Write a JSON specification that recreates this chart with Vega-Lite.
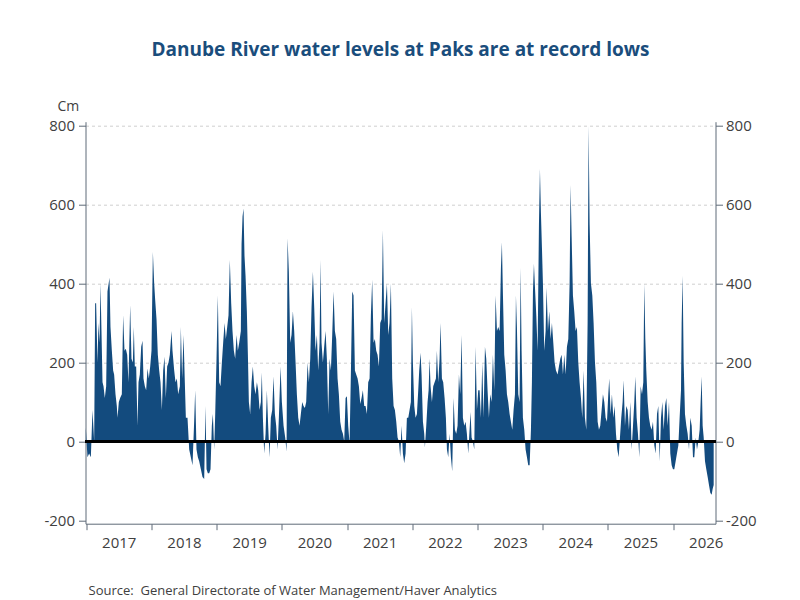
{
  "$schema": "https://vega.github.io/schema/vega-lite/v6.json",
  "width": 630,
  "height": 402,
  "autosize": "none",
  "padding": {"left": 85.5, "top": 121.7, "right": 84.5, "bottom": 76.3},
  "background": "white",
  "title": {
    "text": "Danube River water levels at Paks are at record lows",
    "font": "Open Sans",
    "fontSize": 19,
    "fontWeight": "bold",
    "color": "#1a4d7c",
    "anchor": "middle",
    "frame": "group",
    "offset": 40
  },
  "data": {
    "values": [
      {"year": 2016.995, "level": 35}, {"year": 2017.020, "level": -40}, {"year": 2017.046, "level": -30}, {"year": 2017.072, "level": -40},
      {"year": 2017.097, "level": 80}, {"year": 2017.123, "level": 0}, {"year": 2017.138, "level": 350}, {"year": 2017.153, "level": 350},
      {"year": 2017.174, "level": 200}, {"year": 2017.189, "level": 300}, {"year": 2017.205, "level": 250}, {"year": 2017.220, "level": 400},
      {"year": 2017.235, "level": 280}, {"year": 2017.251, "level": 150}, {"year": 2017.266, "level": 140}, {"year": 2017.286, "level": 110},
      {"year": 2017.307, "level": 140}, {"year": 2017.327, "level": 380}, {"year": 2017.358, "level": 415}, {"year": 2017.373, "level": 290},
      {"year": 2017.394, "level": 230}, {"year": 2017.414, "level": 180}, {"year": 2017.429, "level": 170}, {"year": 2017.450, "level": 120},
      {"year": 2017.470, "level": 90}, {"year": 2017.481, "level": 60}, {"year": 2017.501, "level": 100}, {"year": 2017.521, "level": 110},
      {"year": 2017.547, "level": 120}, {"year": 2017.567, "level": 320}, {"year": 2017.588, "level": 230}, {"year": 2017.608, "level": 235},
      {"year": 2017.629, "level": 220}, {"year": 2017.649, "level": 150}, {"year": 2017.675, "level": 345}, {"year": 2017.695, "level": 210},
      {"year": 2017.716, "level": 200}, {"year": 2017.731, "level": 290}, {"year": 2017.746, "level": 190}, {"year": 2017.767, "level": 190},
      {"year": 2017.787, "level": 40}, {"year": 2017.803, "level": 150}, {"year": 2017.823, "level": 170}, {"year": 2017.844, "level": 240},
      {"year": 2017.864, "level": 255}, {"year": 2017.879, "level": 160}, {"year": 2017.900, "level": 140}, {"year": 2017.920, "level": 130},
      {"year": 2017.941, "level": 185}, {"year": 2017.961, "level": 160}, {"year": 2017.982, "level": 190}, {"year": 2018.002, "level": 230},
      {"year": 2018.023, "level": 480}, {"year": 2018.043, "level": 400}, {"year": 2018.058, "level": 360}, {"year": 2018.079, "level": 310},
      {"year": 2018.099, "level": 220}, {"year": 2018.120, "level": 180}, {"year": 2018.140, "level": 150}, {"year": 2018.161, "level": 80},
      {"year": 2018.181, "level": 180}, {"year": 2018.201, "level": 215}, {"year": 2018.222, "level": 110}, {"year": 2018.242, "level": 190},
      {"year": 2018.263, "level": 200}, {"year": 2018.283, "level": 220}, {"year": 2018.309, "level": 280}, {"year": 2018.324, "level": 230},
      {"year": 2018.350, "level": 180}, {"year": 2018.370, "level": 150}, {"year": 2018.391, "level": 160}, {"year": 2018.411, "level": 120},
      {"year": 2018.437, "level": 140}, {"year": 2018.452, "level": 290}, {"year": 2018.472, "level": 160}, {"year": 2018.493, "level": 270},
      {"year": 2018.513, "level": 150}, {"year": 2018.529, "level": 60}, {"year": 2018.554, "level": 60}, {"year": 2018.580, "level": -20},
      {"year": 2018.605, "level": -40}, {"year": 2018.631, "level": -60}, {"year": 2018.656, "level": 50}, {"year": 2018.672, "level": 130},
      {"year": 2018.692, "level": -20}, {"year": 2018.713, "level": -40}, {"year": 2018.733, "level": -50}, {"year": 2018.759, "level": -70},
      {"year": 2018.784, "level": -90}, {"year": 2018.810, "level": -95}, {"year": 2018.830, "level": 90}, {"year": 2018.846, "level": -70},
      {"year": 2018.866, "level": -80}, {"year": 2018.887, "level": -80}, {"year": 2018.907, "level": -70}, {"year": 2018.927, "level": 40},
      {"year": 2018.943, "level": 70}, {"year": 2018.963, "level": -20}, {"year": 2018.979, "level": 70}, {"year": 2018.999, "level": 210},
      {"year": 2019.019, "level": 370}, {"year": 2019.040, "level": 150}, {"year": 2019.060, "level": 140}, {"year": 2019.081, "level": 200},
      {"year": 2019.101, "level": 250}, {"year": 2019.122, "level": 300}, {"year": 2019.142, "level": 260}, {"year": 2019.163, "level": 290},
      {"year": 2019.183, "level": 320}, {"year": 2019.203, "level": 460}, {"year": 2019.224, "level": 350}, {"year": 2019.244, "level": 280},
      {"year": 2019.265, "level": 230}, {"year": 2019.285, "level": 210}, {"year": 2019.306, "level": 270}, {"year": 2019.326, "level": 230},
      {"year": 2019.347, "level": 250}, {"year": 2019.372, "level": 280}, {"year": 2019.383, "level": 500}, {"year": 2019.398, "level": 570},
      {"year": 2019.413, "level": 590}, {"year": 2019.428, "level": 470}, {"year": 2019.444, "level": 420}, {"year": 2019.464, "level": 330},
      {"year": 2019.480, "level": 220}, {"year": 2019.495, "level": 100}, {"year": 2019.515, "level": 70}, {"year": 2019.536, "level": 150},
      {"year": 2019.556, "level": 190}, {"year": 2019.577, "level": 140}, {"year": 2019.597, "level": 120}, {"year": 2019.618, "level": 150},
      {"year": 2019.638, "level": 130}, {"year": 2019.659, "level": 80}, {"year": 2019.679, "level": 100}, {"year": 2019.694, "level": 175},
      {"year": 2019.710, "level": 60}, {"year": 2019.730, "level": -30}, {"year": 2019.751, "level": 20}, {"year": 2019.771, "level": 130},
      {"year": 2019.791, "level": 40}, {"year": 2019.812, "level": -40}, {"year": 2019.832, "level": 60}, {"year": 2019.853, "level": 80},
      {"year": 2019.873, "level": 165}, {"year": 2019.894, "level": 70}, {"year": 2019.914, "level": 40}, {"year": 2019.935, "level": -20},
      {"year": 2019.955, "level": 60}, {"year": 2019.981, "level": 190}, {"year": 2020.001, "level": 100}, {"year": 2020.027, "level": 40},
      {"year": 2020.052, "level": 10}, {"year": 2020.073, "level": -25}, {"year": 2020.088, "level": 515}, {"year": 2020.108, "level": 430},
      {"year": 2020.129, "level": 250}, {"year": 2020.149, "level": 270}, {"year": 2020.170, "level": 330}, {"year": 2020.190, "level": 280},
      {"year": 2020.211, "level": 200}, {"year": 2020.231, "level": 120}, {"year": 2020.252, "level": 60}, {"year": 2020.272, "level": 40},
      {"year": 2020.292, "level": 70}, {"year": 2020.313, "level": 100}, {"year": 2020.333, "level": 90}, {"year": 2020.354, "level": 85},
      {"year": 2020.374, "level": 100}, {"year": 2020.395, "level": 200}, {"year": 2020.415, "level": 150}, {"year": 2020.436, "level": 210},
      {"year": 2020.456, "level": 340}, {"year": 2020.477, "level": 430}, {"year": 2020.497, "level": 340}, {"year": 2020.517, "level": 230},
      {"year": 2020.538, "level": 270}, {"year": 2020.558, "level": 180}, {"year": 2020.579, "level": 250}, {"year": 2020.594, "level": 460},
      {"year": 2020.609, "level": 250}, {"year": 2020.630, "level": 200}, {"year": 2020.650, "level": 240}, {"year": 2020.671, "level": 280},
      {"year": 2020.691, "level": 210}, {"year": 2020.712, "level": 70}, {"year": 2020.732, "level": 210}, {"year": 2020.753, "level": 180},
      {"year": 2020.773, "level": 270}, {"year": 2020.794, "level": 380}, {"year": 2020.814, "level": 280}, {"year": 2020.834, "level": 260},
      {"year": 2020.855, "level": 160}, {"year": 2020.875, "level": 120}, {"year": 2020.896, "level": 50}, {"year": 2020.916, "level": 30},
      {"year": 2020.937, "level": 20}, {"year": 2020.957, "level": 0}, {"year": 2020.978, "level": 110}, {"year": 2020.998, "level": 115},
      {"year": 2021.018, "level": 40}, {"year": 2021.039, "level": -5}, {"year": 2021.059, "level": 170}, {"year": 2021.080, "level": 380},
      {"year": 2021.100, "level": 370}, {"year": 2021.121, "level": 180}, {"year": 2021.141, "level": 170}, {"year": 2021.162, "level": 160},
      {"year": 2021.182, "level": 140}, {"year": 2021.203, "level": 95}, {"year": 2021.223, "level": 110}, {"year": 2021.243, "level": 130},
      {"year": 2021.264, "level": 90}, {"year": 2021.284, "level": 90}, {"year": 2021.305, "level": 70}, {"year": 2021.325, "level": 150},
      {"year": 2021.346, "level": 160}, {"year": 2021.366, "level": 320}, {"year": 2021.386, "level": 410}, {"year": 2021.407, "level": 250},
      {"year": 2021.427, "level": 260}, {"year": 2021.448, "level": 230}, {"year": 2021.468, "level": 220}, {"year": 2021.489, "level": 190},
      {"year": 2021.509, "level": 300}, {"year": 2021.530, "level": 310}, {"year": 2021.550, "level": 535}, {"year": 2021.571, "level": 300},
      {"year": 2021.591, "level": 350}, {"year": 2021.612, "level": 400}, {"year": 2021.632, "level": 270}, {"year": 2021.652, "level": 300},
      {"year": 2021.673, "level": 400}, {"year": 2021.693, "level": 160}, {"year": 2021.714, "level": 90}, {"year": 2021.734, "level": 80},
      {"year": 2021.755, "level": 50}, {"year": 2021.775, "level": 10}, {"year": 2021.796, "level": 0}, {"year": 2021.811, "level": -30},
      {"year": 2021.816, "level": -40}, {"year": 2021.836, "level": 40}, {"year": 2021.857, "level": -30}, {"year": 2021.877, "level": -55},
      {"year": 2021.898, "level": -30}, {"year": 2021.918, "level": 60}, {"year": 2021.939, "level": 60}, {"year": 2021.959, "level": 80},
      {"year": 2021.979, "level": 100}, {"year": 2021.995, "level": 340}, {"year": 2022.010, "level": 200}, {"year": 2022.031, "level": 90},
      {"year": 2022.051, "level": 60}, {"year": 2022.072, "level": 70}, {"year": 2022.092, "level": 130}, {"year": 2022.107, "level": 180},
      {"year": 2022.128, "level": 225}, {"year": 2022.143, "level": 170}, {"year": 2022.164, "level": 50}, {"year": 2022.184, "level": 20},
      {"year": 2022.194, "level": -15}, {"year": 2022.215, "level": 40}, {"year": 2022.235, "level": 100}, {"year": 2022.251, "level": 130},
      {"year": 2022.266, "level": 210}, {"year": 2022.281, "level": 140}, {"year": 2022.302, "level": 100}, {"year": 2022.322, "level": 140},
      {"year": 2022.343, "level": 150}, {"year": 2022.363, "level": 160}, {"year": 2022.378, "level": 230}, {"year": 2022.399, "level": 150},
      {"year": 2022.419, "level": 210}, {"year": 2022.434, "level": 300}, {"year": 2022.455, "level": 160}, {"year": 2022.475, "level": 150},
      {"year": 2022.496, "level": 110}, {"year": 2022.516, "level": 60}, {"year": 2022.532, "level": -20}, {"year": 2022.552, "level": -40},
      {"year": 2022.573, "level": 20}, {"year": 2022.593, "level": -40}, {"year": 2022.613, "level": -75}, {"year": 2022.634, "level": 110},
      {"year": 2022.654, "level": 30}, {"year": 2022.675, "level": 20}, {"year": 2022.695, "level": 40}, {"year": 2022.716, "level": 170},
      {"year": 2022.736, "level": 120}, {"year": 2022.757, "level": 270}, {"year": 2022.777, "level": 60}, {"year": 2022.798, "level": 40},
      {"year": 2022.818, "level": 50}, {"year": 2022.838, "level": 20}, {"year": 2022.859, "level": -30}, {"year": 2022.879, "level": 30},
      {"year": 2022.895, "level": 75}, {"year": 2022.910, "level": 10}, {"year": 2022.931, "level": 0}, {"year": 2022.951, "level": -20},
      {"year": 2022.971, "level": 240}, {"year": 2022.992, "level": 80}, {"year": 2023.012, "level": 130}, {"year": 2023.033, "level": 130},
      {"year": 2023.053, "level": 60}, {"year": 2023.074, "level": 200}, {"year": 2023.094, "level": 60}, {"year": 2023.115, "level": 240},
      {"year": 2023.135, "level": 210}, {"year": 2023.155, "level": 130}, {"year": 2023.176, "level": 60}, {"year": 2023.196, "level": 120},
      {"year": 2023.217, "level": 100}, {"year": 2023.237, "level": 220}, {"year": 2023.258, "level": 130}, {"year": 2023.278, "level": 370},
      {"year": 2023.299, "level": 280}, {"year": 2023.319, "level": 290}, {"year": 2023.340, "level": 280}, {"year": 2023.360, "level": 440},
      {"year": 2023.375, "level": 505}, {"year": 2023.391, "level": 370}, {"year": 2023.411, "level": 220}, {"year": 2023.432, "level": 180},
      {"year": 2023.452, "level": 120}, {"year": 2023.472, "level": 100}, {"year": 2023.493, "level": 70}, {"year": 2023.513, "level": 50},
      {"year": 2023.534, "level": 30}, {"year": 2023.554, "level": 80}, {"year": 2023.575, "level": 120}, {"year": 2023.590, "level": 370},
      {"year": 2023.605, "level": 290}, {"year": 2023.626, "level": 120}, {"year": 2023.646, "level": 100}, {"year": 2023.662, "level": 440},
      {"year": 2023.677, "level": 230}, {"year": 2023.697, "level": 60}, {"year": 2023.718, "level": 30}, {"year": 2023.738, "level": -20},
      {"year": 2023.759, "level": -40}, {"year": 2023.779, "level": -60}, {"year": 2023.800, "level": -60}, {"year": 2023.820, "level": 30},
      {"year": 2023.835, "level": 150}, {"year": 2023.851, "level": 380}, {"year": 2023.866, "level": 450}, {"year": 2023.882, "level": 390},
      {"year": 2023.902, "level": 320}, {"year": 2023.922, "level": 230}, {"year": 2023.943, "level": 550}, {"year": 2023.958, "level": 690},
      {"year": 2023.973, "level": 580}, {"year": 2023.989, "level": 490}, {"year": 2024.004, "level": 400}, {"year": 2024.024, "level": 230},
      {"year": 2024.045, "level": 280}, {"year": 2024.060, "level": 390}, {"year": 2024.081, "level": 280}, {"year": 2024.101, "level": 330},
      {"year": 2024.122, "level": 260}, {"year": 2024.142, "level": 300}, {"year": 2024.163, "level": 250}, {"year": 2024.183, "level": 200},
      {"year": 2024.204, "level": 180}, {"year": 2024.229, "level": 170}, {"year": 2024.249, "level": 190}, {"year": 2024.270, "level": 210},
      {"year": 2024.290, "level": 220}, {"year": 2024.311, "level": 170}, {"year": 2024.331, "level": 220}, {"year": 2024.352, "level": 170},
      {"year": 2024.372, "level": 240}, {"year": 2024.393, "level": 260}, {"year": 2024.413, "level": 400}, {"year": 2024.428, "level": 650},
      {"year": 2024.444, "level": 520}, {"year": 2024.464, "level": 370}, {"year": 2024.484, "level": 330}, {"year": 2024.505, "level": 280},
      {"year": 2024.525, "level": 290}, {"year": 2024.546, "level": 200}, {"year": 2024.566, "level": 150}, {"year": 2024.587, "level": 110},
      {"year": 2024.607, "level": 60}, {"year": 2024.628, "level": 180}, {"year": 2024.648, "level": 60}, {"year": 2024.669, "level": 30},
      {"year": 2024.689, "level": 300}, {"year": 2024.704, "level": 800}, {"year": 2024.720, "level": 550}, {"year": 2024.740, "level": 400},
      {"year": 2024.761, "level": 370}, {"year": 2024.781, "level": 300}, {"year": 2024.802, "level": 200}, {"year": 2024.822, "level": 150},
      {"year": 2024.843, "level": 50}, {"year": 2024.863, "level": 30}, {"year": 2024.883, "level": 40}, {"year": 2024.904, "level": 80},
      {"year": 2024.924, "level": 120}, {"year": 2024.945, "level": 100}, {"year": 2024.965, "level": 60}, {"year": 2024.986, "level": 50},
      {"year": 2025.006, "level": 120}, {"year": 2025.021, "level": 160}, {"year": 2025.042, "level": 70}, {"year": 2025.062, "level": 120},
      {"year": 2025.083, "level": 60}, {"year": 2025.103, "level": 90}, {"year": 2025.124, "level": 20}, {"year": 2025.144, "level": -20},
      {"year": 2025.165, "level": -40}, {"year": 2025.185, "level": 10}, {"year": 2025.205, "level": 60}, {"year": 2025.226, "level": 100},
      {"year": 2025.241, "level": 155}, {"year": 2025.262, "level": 40}, {"year": 2025.282, "level": 90}, {"year": 2025.303, "level": 80},
      {"year": 2025.323, "level": 30}, {"year": 2025.344, "level": 100}, {"year": 2025.364, "level": -20}, {"year": 2025.385, "level": 40},
      {"year": 2025.405, "level": 100}, {"year": 2025.420, "level": 165}, {"year": 2025.441, "level": 60}, {"year": 2025.461, "level": 20},
      {"year": 2025.482, "level": -40}, {"year": 2025.502, "level": 140}, {"year": 2025.523, "level": 120}, {"year": 2025.543, "level": 150},
      {"year": 2025.558, "level": 400}, {"year": 2025.574, "level": 260}, {"year": 2025.589, "level": 180}, {"year": 2025.610, "level": 100},
      {"year": 2025.630, "level": 60}, {"year": 2025.650, "level": 40}, {"year": 2025.671, "level": 30}, {"year": 2025.691, "level": 50},
      {"year": 2025.712, "level": -10}, {"year": 2025.732, "level": -30}, {"year": 2025.753, "level": 70}, {"year": 2025.773, "level": 90},
      {"year": 2025.794, "level": -50}, {"year": 2025.814, "level": 60}, {"year": 2025.835, "level": 100}, {"year": 2025.855, "level": 30},
      {"year": 2025.876, "level": 90}, {"year": 2025.896, "level": 110}, {"year": 2025.916, "level": 40}, {"year": 2025.937, "level": 100},
      {"year": 2025.957, "level": -30}, {"year": 2025.978, "level": -60}, {"year": 2025.998, "level": -70}, {"year": 2026.018, "level": -70},
      {"year": 2026.039, "level": -50}, {"year": 2026.059, "level": -30}, {"year": 2026.080, "level": -10}, {"year": 2026.100, "level": 60},
      {"year": 2026.121, "level": 130}, {"year": 2026.131, "level": 300}, {"year": 2026.146, "level": 420}, {"year": 2026.162, "level": 200},
      {"year": 2026.182, "level": 70}, {"year": 2026.203, "level": 40}, {"year": 2026.223, "level": 20}, {"year": 2026.244, "level": -20},
      {"year": 2026.264, "level": 60}, {"year": 2026.285, "level": 40}, {"year": 2026.305, "level": -40}, {"year": 2026.325, "level": -40},
      {"year": 2026.346, "level": 10}, {"year": 2026.366, "level": -20}, {"year": 2026.387, "level": 0}, {"year": 2026.407, "level": 30},
      {"year": 2026.422, "level": 100}, {"year": 2026.438, "level": 165}, {"year": 2026.453, "level": 40}, {"year": 2026.469, "level": 10},
      {"year": 2026.489, "level": -50}, {"year": 2026.509, "level": -70}, {"year": 2026.530, "level": -90}, {"year": 2026.550, "level": -110},
      {"year": 2026.571, "level": -130}, {"year": 2026.591, "level": -135}, {"year": 2026.606, "level": -120}, {"year": 2026.622, "level": -110}
    ]
  },
  "layer": [
    {
      "mark": {"type": "area", "color": "#134b7e", "interpolate": "linear"},
      "encoding": {
        "x": {
          "field": "year",
          "type": "quantitative",
          "scale": {"domain": [2016.99, 2026.65], "nice": false, "zero": false},
          "axis": {
            "values": [2017, 2018, 2019, 2020, 2021, 2022, 2023, 2024, 2025, 2026],
            "format": "d",
            "grid": false,
            "labelOffset": 32.6,
            "labelFont": "Open Sans",
            "labelFontSize": 15,
            "labelColor": "#404040",
            "labelPadding": 6,
            "labelFlush": false,
            "labelOverlap": false,
            "tickSize": 6,
            "tickColor": "#5f6b78",
            "domainColor": "#5f6b78",
            "title": "Source:\u00a0 General Directorate of Water Management/Haver Analytics",
            "titleFont": "Open Sans",
            "titleFontSize": 13,
            "titleFontWeight": "normal",
            "titleColor": "#404040",
            "titleAnchor": "start",
            "titleAlign": "left",
            "titleBaseline": "middle",
            "titleX": 2.5,
            "titleY": 67
          }
        },
        "y": {
          "field": "level",
          "type": "quantitative",
          "stack": null,
          "scale": {"domain": [-208, 810], "nice": false, "zero": false},
          "axis": {
            "orient": "left",
            "values": [-200, 0, 200, 400, 600, 800],
            "labelExpr": "'' + datum.value",
            "labelFont": "Open Sans",
            "labelFontSize": 15,
            "labelColor": "#404040",
            "labelPadding": 4,
            "tickSize": 7,
            "tickColor": "#5f6b78",
            "domainColor": "#5f6b78",
            "grid": true,
            "gridColor": {"condition": {"test": "datum.value <= 0", "value": "transparent"}, "value": "#cfcfcf"},
            "gridDash": [3, 3],
            "title": "Cm",
            "titleFont": "Open Sans",
            "titleFontSize": 14,
            "titleFontWeight": "normal",
            "titleColor": "#404040",
            "titleAngle": 0,
            "titleAlign": "left",
            "titleBaseline": "middle",
            "titleX": -28.5,
            "titleY": -15
          }
        },
        "y2": {"datum": 0}
      }
    },
    {
      "mark": {"type": "rule", "color": "black", "strokeWidth": 1.5},
      "encoding": {
        "y": {
          "datum": 0,
          "type": "quantitative",
          "axis": {
            "orient": "right",
            "values": [-200, 0, 200, 400, 600, 800],
            "labelExpr": "'' + datum.value",
            "labelFont": "Open Sans",
            "labelFontSize": 15,
            "labelColor": "#404040",
            "labelPadding": 3,
            "tickSize": 7,
            "tickColor": "#5f6b78",
            "domainColor": "#5f6b78",
            "grid": false,
            "title": null
          }
        }
      }
    }
  ],
  "resolve": {"axis": {"y": "independent"}},
  "config": {"view": {"stroke": null}}
}
